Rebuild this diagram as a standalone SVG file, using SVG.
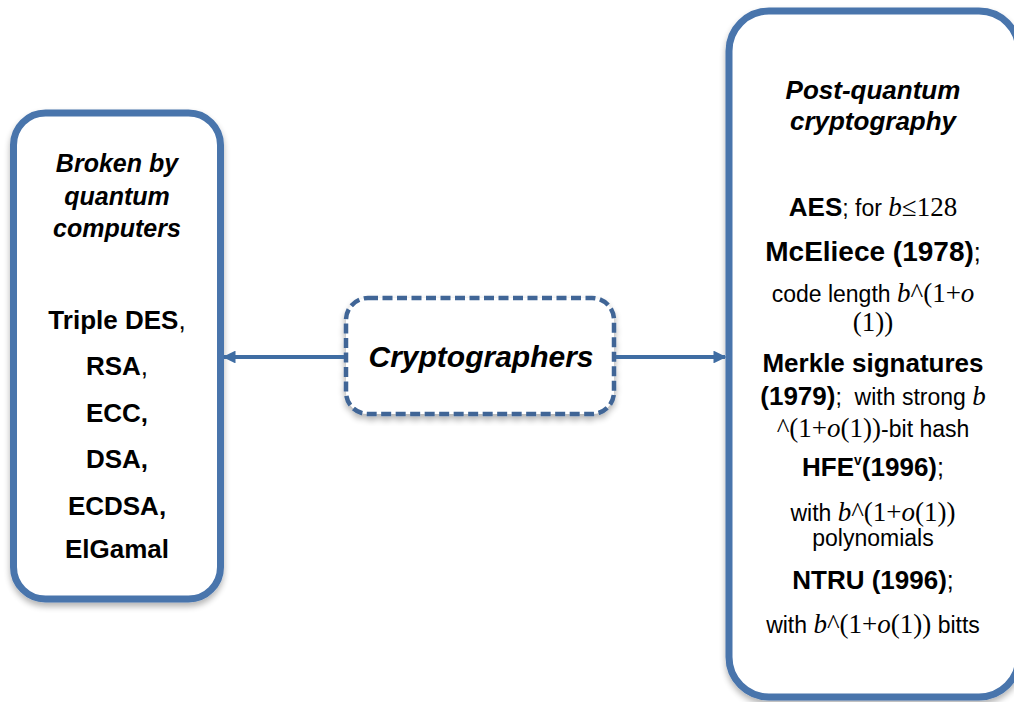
<svg xmlns="http://www.w3.org/2000/svg" width="1014" height="702" viewBox="0 0 1014 702">
<defs>
<filter id="sh" x="-10%" y="-10%" width="120%" height="120%">
<feGaussianBlur in="SourceAlpha" stdDeviation="3"/>
<feOffset dx="0" dy="4" result="b"/>
<feComponentTransfer><feFuncA type="linear" slope="0.3"/></feComponentTransfer>
<feMerge><feMergeNode/><feMergeNode in="SourceGraphic"/></feMerge>
</filter>
<marker id="ah" viewBox="0 0 10 10" refX="9" refY="5" markerWidth="3.2" markerHeight="3.2" orient="auto" markerUnits="strokeWidth">
<path d="M0,0 L10,5 L0,10 z" fill="#3F6DA3"/>
</marker>
<style>
.box{fill:#fff;stroke:#4874AC;stroke-width:7}
.dash{fill:#fff;stroke:#3F6596;stroke-width:4.5;stroke-dasharray:10 4.5}
.conn{stroke:#3F6DA3;stroke-width:4;fill:none}
text{font-family:"Liberation Sans",Arial,sans-serif;fill:#000;text-anchor:middle}
.ti{font-weight:bold;font-style:italic;font-size:25px}
.it{font-weight:bold;font-size:26px}
.hd{font-weight:bold;font-size:26px}
.rg{font-weight:normal;font-size:23px}
.m{font-family:"Liberation Serif","DejaVu Serif",serif;font-weight:normal;font-style:normal;font-size:27px}
.mi{font-family:"Liberation Serif","DejaVu Serif",serif;font-weight:normal;font-style:italic;font-size:27px}
.nb{font-weight:normal}
</style>
</defs>

<g id="left-node">
<rect class="box" x="13.5" y="113" width="207" height="486" rx="32" filter="url(#sh)"/>
<text class="ti" x="117" y="172">Broken by</text>
<text class="ti" x="117" y="205">quantum</text>
<text class="ti" x="117" y="237">computers</text>
<text class="it" x="117" y="329">Triple DES<tspan class="nb">,</tspan></text>
<text class="it" x="117" y="375">RSA<tspan class="nb">,</tspan></text>
<text class="it" x="117" y="422">ECC,</text>
<text class="it" x="117" y="468">DSA,</text>
<text class="it" x="117" y="515">ECDSA,</text>
<text class="it" x="117" y="558">ElGamal</text>
</g>

<g id="center-node">
<rect class="dash" x="346" y="298" width="268" height="116" rx="22" filter="url(#sh)"/>
<text x="481" y="367" style="font-weight:bold;font-style:italic;font-size:30px">Cryptographers</text>
</g>

<g id="right-node">
<rect class="box" x="729" y="11" width="290" height="686" rx="40" filter="url(#sh)"/>
<text class="ti" x="873" y="99" style="font-size:26px">Post-quantum</text>
<text class="ti" x="873" y="130" style="font-size:26px">cryptography</text>
<text class="hd" x="873" y="216">AES<tspan class="rg">; for </tspan><tspan class="mi">b</tspan><tspan class="m">≤128</tspan></text>
<text class="hd" x="873" y="261" style="font-size:28px">McEliece (1978)<tspan class="rg" style="font-size:25px">;</tspan></text>
<text class="rg" x="873" y="302">code length <tspan class="mi">b</tspan><tspan class="m">^(1+</tspan><tspan class="mi">o</tspan></text>
<text class="m" x="873" y="331">(1))</text>
<text class="hd" x="873" y="372">Merkle signatures</text>
<text class="hd" x="873" y="405" xml:space="preserve">(1979)<tspan class="rg">;  with strong </tspan><tspan class="mi">b</tspan></text>
<text class="rg" x="873" y="437"><tspan class="m">^(1+</tspan><tspan class="mi">o</tspan><tspan class="m">(1))</tspan>-bit hash</text>
<text class="hd" x="873" y="476">HFE<tspan style="font-size:14px" dy="-11">v</tspan><tspan dy="11">(1996)</tspan><tspan class="rg" style="font-size:25px">;</tspan></text>
<text class="rg" x="873" y="521">with <tspan class="mi">b</tspan><tspan class="m">^(1+</tspan><tspan class="mi">o</tspan><tspan class="m">(1))</tspan></text>
<text class="rg" x="873" y="546">polynomials</text>
<text class="hd" x="873" y="589">NTRU (1996)<tspan class="rg" style="font-size:25px">;</tspan></text>
<text class="rg" x="873" y="633">with <tspan class="mi">b</tspan><tspan class="m">^(1+</tspan><tspan class="mi">o</tspan><tspan class="m">(1))</tspan> bitts</text>
</g>

<g id="connectors">
<line class="conn" x1="344" y1="357" x2="224" y2="357" marker-end="url(#ah)"/>
<line class="conn" x1="616" y1="357" x2="725" y2="357" marker-end="url(#ah)"/>
</g>
</svg>
